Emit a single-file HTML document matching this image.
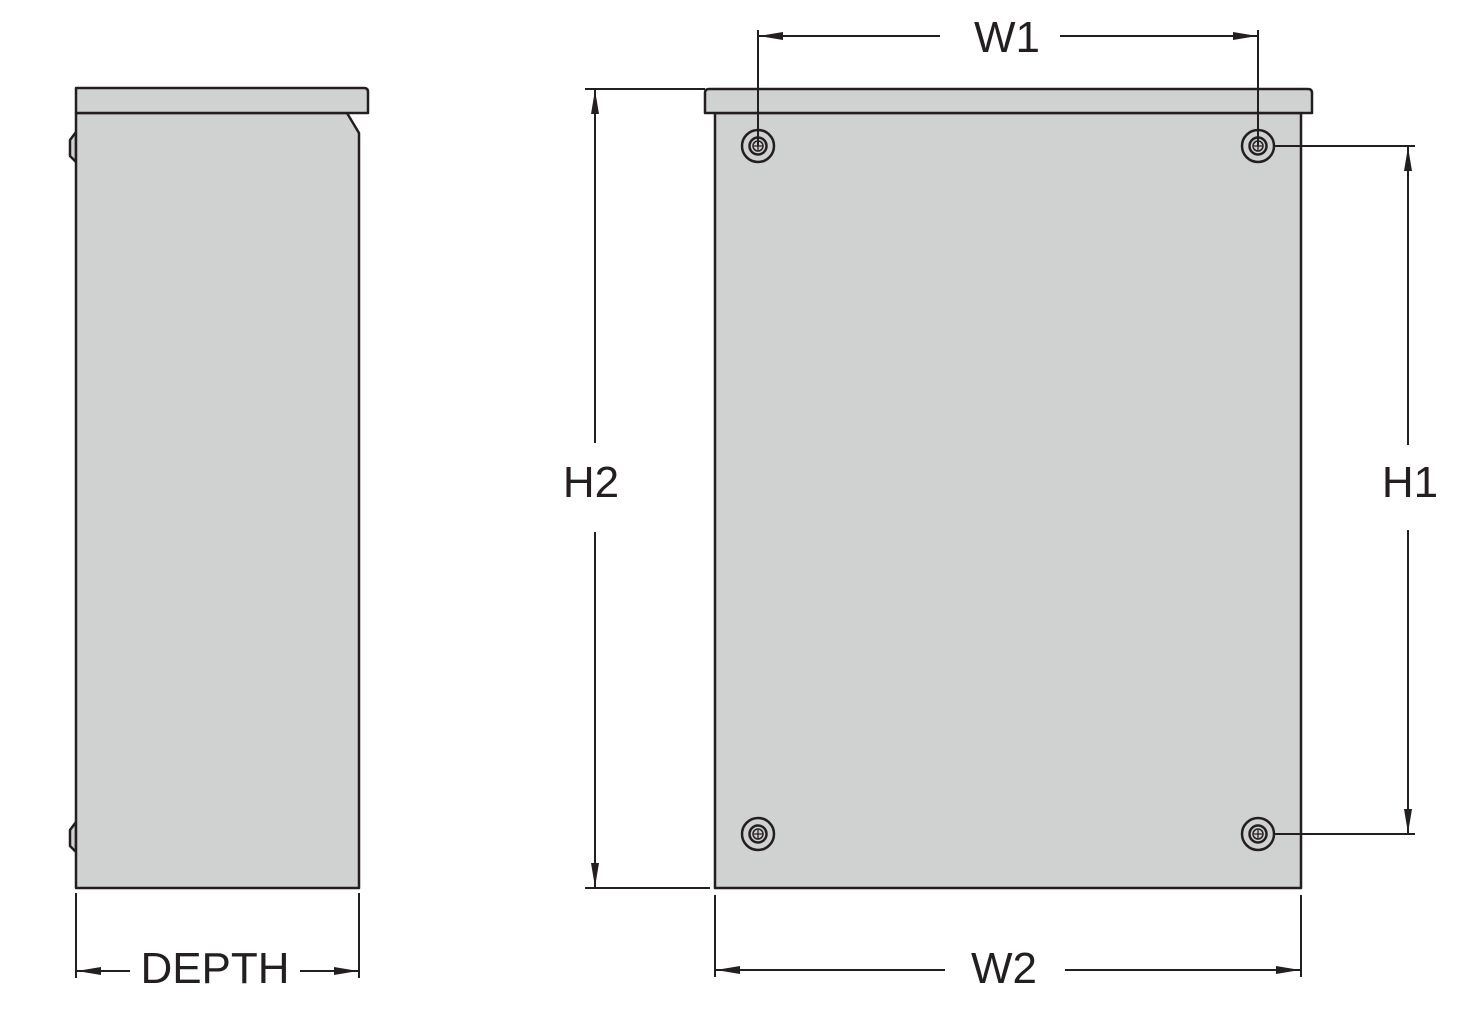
<!DOCTYPE html>
<html><head><meta charset="utf-8"><style>
html,body{margin:0;padding:0;background:#fff;}
svg{display:block;}
text{font-family:"Liberation Sans",sans-serif;font-size:44px;fill:#231f20;}
</style></head><body>
<svg width="1471" height="1021" viewBox="0 0 1471 1021" xmlns="http://www.w3.org/2000/svg">
<defs>
<marker id="ar" viewBox="0 0 24 8" refX="24" refY="4" markerWidth="24" markerHeight="8" markerUnits="userSpaceOnUse" orient="auto">
<path d="M0,0 L24,4 L0,8 Z" fill="#231f20"/></marker>
<g id="scr" stroke="#231f20" fill="none">
<circle r="16" stroke-width="2.5"/><circle r="8.5" stroke-width="2.5"/><circle r="5" stroke-width="1.5"/>
<path d="M-4,0H4M0,-4V4" stroke-width="1.3"/></g>
</defs>
<g stroke="#231f20" stroke-width="2.5" fill="#d0d2d1" stroke-linejoin="round">
<!-- side view -->
<path d="M76,132 L70,140 L70,156 L76,162 Z"/>
<path d="M76,822 L70,830 L70,846 L76,852 Z"/>
<path d="M76,113 L347,113 L359,133 L359,888 L76,888 Z"/>
<path d="M76,88 L364,88 Q368,88 368,92 L368,113 L76,113 Z"/>
<!-- front view -->
<rect x="715" y="113" width="586" height="775"/>
<path d="M709,89 L1308,89 Q1312,89 1312,93 L1312,113 L705,113 L705,93 Q705,89 709,89 Z"/>
</g>
<use href="#scr" x="758" y="146"/><use href="#scr" x="1258" y="146"/>
<use href="#scr" x="758" y="834"/><use href="#scr" x="1258" y="834"/>
<g stroke="#231f20" stroke-width="2" fill="none">
<!-- W1 -->
<path d="M758,30V146M1258,30V146"/>
<path d="M940,36H759" marker-end="url(#ar)"/><path d="M1060,36H1257" marker-end="url(#ar)"/>
<!-- H2 -->
<path d="M585,89H705M585,888H710"/>
<path d="M595,443V90" marker-end="url(#ar)"/><path d="M595,532V887" marker-end="url(#ar)"/>
<!-- H1 -->
<path d="M1274,146H1415M1274,834H1415"/>
<path d="M1408,445V147" marker-end="url(#ar)"/><path d="M1408,530V833" marker-end="url(#ar)"/>
<!-- W2 -->
<path d="M715,895V977M1301,895V977"/>
<path d="M945,970H716" marker-end="url(#ar)"/><path d="M1065,970H1300" marker-end="url(#ar)"/>
<!-- DEPTH -->
<path d="M76,893V978M359,893V978"/>
<path d="M130,971H77" marker-end="url(#ar)"/><path d="M300,971H358" marker-end="url(#ar)"/>
</g>
<text x="1007" y="52" text-anchor="middle">W1</text>
<text x="591" y="497" text-anchor="middle">H2</text>
<text x="1410" y="497" text-anchor="middle">H1</text>
<text x="1004" y="983" text-anchor="middle">W2</text>
<text x="215" y="983" text-anchor="middle">DEPTH</text>
</svg>
</body></html>
